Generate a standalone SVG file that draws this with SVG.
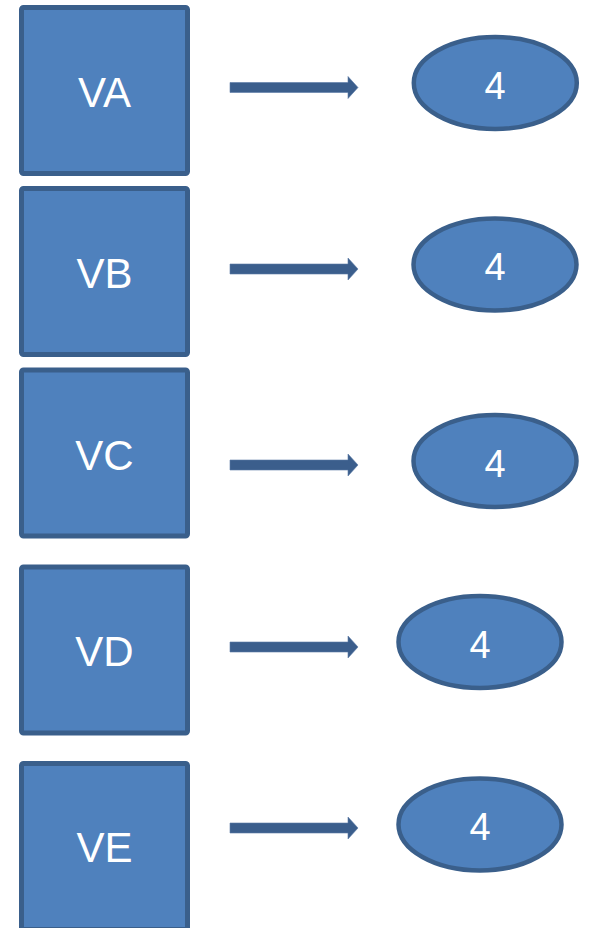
<svg xmlns="http://www.w3.org/2000/svg" width="596" height="928" viewBox="0 0 596 928">
<defs>
<style>
.box{fill:#4F81BD;stroke:#3A5F8B;stroke-width:5}
.oval{fill:#4F81BD;stroke:#3A5F8B;stroke-width:4.5}
.lbl{font-family:"Liberation Sans",Arial,sans-serif;font-size:42px;fill:#FFFFFF;text-anchor:middle}
.num{font-family:"Liberation Sans",Arial,sans-serif;font-size:38px;fill:#FFFFFF;text-anchor:middle}
.arr{fill:#3B5E8C;stroke:#5A7BA6;stroke-width:0.6}
</style>
<path id="arrowShape" d="M0,-5 L118,-5 L118,-11 L128,0 L118,11 L118,5 L0,5 Z"/>
</defs>
<rect width="596" height="928" fill="#FFFFFF"/>
<g id="VA"><rect class="box" x="21.5" y="7.5" width="166" height="166" rx="2"/><text class="lbl" x="104.5" y="107">VA</text></g>
<g id="VB"><rect class="box" x="21.5" y="188.5" width="166" height="166" rx="2"/><text class="lbl" x="104.5" y="288">VB</text></g>
<g id="VC"><rect class="box" x="21.5" y="370" width="166" height="166" rx="2"/><text class="lbl" x="104.5" y="469.5">VC</text></g>
<g id="VD"><rect class="box" x="21.5" y="567" width="166" height="166" rx="2"/><text class="lbl" x="104.5" y="665.5">VD</text></g>
<g id="VE"><rect class="box" x="21.5" y="763.5" width="166" height="166" rx="2"/><text class="lbl" x="104.5" y="862">VE</text></g>
<g id="NA"><ellipse class="oval" cx="495.3" cy="83" rx="81.5" ry="46"/><text class="num" x="495" y="98.5">4</text></g>
<g id="NB"><ellipse class="oval" cx="495" cy="264.5" rx="81.5" ry="46"/><text class="num" x="495" y="279.5">4</text></g>
<g id="NC"><ellipse class="oval" cx="495" cy="461" rx="81.5" ry="46"/><text class="num" x="495" y="476.5">4</text></g>
<g id="ND"><ellipse class="oval" cx="480" cy="642" rx="81.5" ry="46"/><text class="num" x="480" y="657.5">4</text></g>
<g id="NE"><ellipse class="oval" cx="480" cy="824.5" rx="81.5" ry="46"/><text class="num" x="480" y="839.5">4</text></g>
<g id="connectors">
<use href="#arrowShape" class="arr" transform="translate(230,87.5)"/>
<use href="#arrowShape" class="arr" transform="translate(230,269)"/>
<use href="#arrowShape" class="arr" transform="translate(230,465)"/>
<use href="#arrowShape" class="arr" transform="translate(230,647)"/>
<use href="#arrowShape" class="arr" transform="translate(230,828)"/>
</g>
</svg>
